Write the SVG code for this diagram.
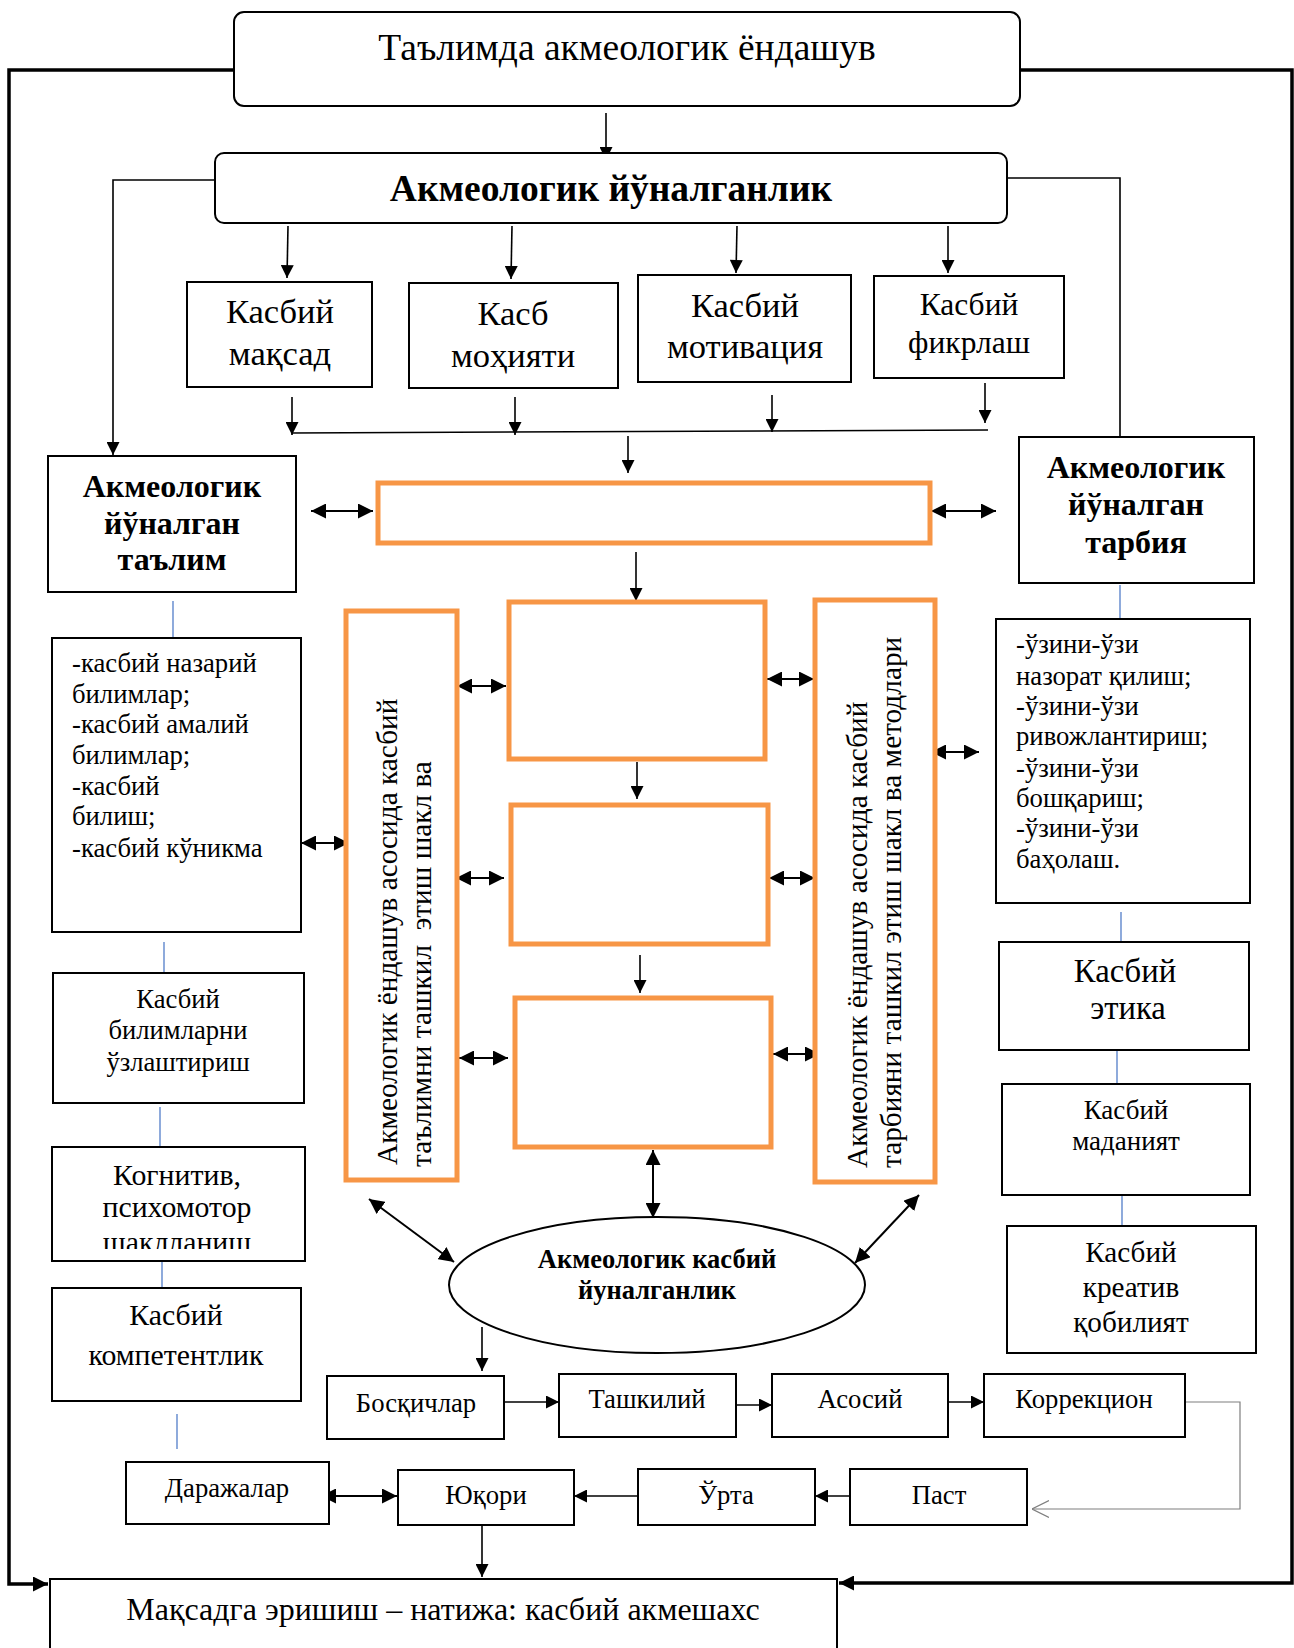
<svg xmlns="http://www.w3.org/2000/svg" width="1294" height="1648" viewBox="0 0 1294 1648">
<style>
text{font-family:"Liberation Serif","Times New Roman",serif;fill:#000}
.c{text-anchor:middle}
.b{font-weight:bold}
.box{fill:#fff;stroke:#000;stroke-width:2}
.ob{fill:#fff;stroke:#F79646;stroke-width:5}
.ln{fill:none;stroke:#000;stroke-width:1.6}
.dl{fill:none;stroke:#000;stroke-width:2}
.fr{fill:none;stroke:#000;stroke-width:3.5}
.bl{fill:none;stroke:#4472C4;stroke-width:1.2}
.gr{fill:none;stroke:#7F7F7F;stroke-width:1.2}
.vt{font-size:29.3px}
.ls{font-size:26.7px}
.rw{font-size:26.7px}
</style>
<defs>
<marker id="a" viewBox="0 0 10 10" refX="10" refY="5" markerWidth="14" markerHeight="13" markerUnits="userSpaceOnUse" orient="auto"><path d="M0,0L10,5L0,10z" fill="#000"/></marker>
<marker id="d" viewBox="0 0 10 10" refX="10" refY="5" markerWidth="15" markerHeight="15" markerUnits="userSpaceOnUse" orient="auto-start-reverse"><path d="M0,0L10,5L0,10z" fill="#000"/></marker>
<marker id="f" viewBox="0 0 10 10" refX="10" refY="5" markerWidth="15" markerHeight="15" markerUnits="userSpaceOnUse" orient="auto"><path d="M0,0L10,5L0,10z" fill="#000"/></marker>
<marker id="o" viewBox="0 0 10 10" refX="10" refY="5" markerWidth="17" markerHeight="18" markerUnits="userSpaceOnUse" orient="auto"><path d="M0,0L10,5L0,10" fill="none" stroke="#7F7F7F" stroke-width="0.7"/></marker>
<clipPath id="kc"><rect x="52" y="1147" width="253" height="102"/></clipPath>
</defs>

<g id="connectors">
<path class="fr" d="M234,70H9V1584H48" marker-end="url(#f)"/>
<path class="fr" d="M1020,70H1292V1583H839" marker-end="url(#f)"/>
<path class="ln" d="M606,113V160" marker-end="url(#a)"/>
<path class="ln" d="M215,180H113V455" marker-end="url(#a)"/>
<path class="ln" d="M1007,178H1120V449" marker-end="url(#a)"/>
<path class="ln" d="M288,226L287,278" marker-end="url(#a)"/>
<path class="ln" d="M512,226L511,279" marker-end="url(#a)"/>
<path class="ln" d="M737,226L736,273" marker-end="url(#a)"/>
<path class="ln" d="M948,226L948,273" marker-end="url(#a)"/>
<path class="ln" d="M292,397V435" marker-end="url(#a)"/>
<path class="ln" d="M515,397V435" marker-end="url(#a)"/>
<path class="ln" d="M772,395V432" marker-end="url(#a)"/>
<path class="ln" d="M985,383V423" marker-end="url(#a)"/>
<path class="ln" d="M292,433L988,430"/>
<path class="ln" d="M628,436V473" marker-end="url(#a)"/>
<path class="ln" d="M636,552V601" marker-end="url(#a)"/>
<path class="ln" d="M637,762V799" marker-end="url(#a)"/>
<path class="ln" d="M640,955V993" marker-end="url(#a)"/>
<path class="dl" d="M311,511H373" marker-start="url(#d)" marker-end="url(#d)"/>
<path class="dl" d="M931,511H996" marker-start="url(#d)" marker-end="url(#d)"/>
<path class="dl" d="M301,843H349" marker-start="url(#d)" marker-end="url(#d)"/>
<path class="dl" d="M457,686H506" marker-start="url(#d)" marker-end="url(#d)"/>
<path class="dl" d="M456,878H504" marker-start="url(#d)" marker-end="url(#d)"/>
<path class="dl" d="M459,1058H508" marker-start="url(#d)" marker-end="url(#d)"/>
<path class="dl" d="M767,679H814" marker-start="url(#d)" marker-end="url(#d)"/>
<path class="dl" d="M769,878H815" marker-start="url(#d)" marker-end="url(#d)"/>
<path class="dl" d="M773,1054H820" marker-start="url(#d)" marker-end="url(#d)"/>
<path class="dl" d="M931,752H979" marker-start="url(#d)" marker-end="url(#d)"/>
<path class="dl" d="M653,1150V1218" marker-start="url(#d)" marker-end="url(#d)"/>
<path class="dl" d="M369,1199L454,1262" marker-start="url(#d)" marker-end="url(#d)"/>
<path class="dl" d="M919,1195L855,1263" marker-start="url(#d)" marker-end="url(#d)"/>
<path class="ln" d="M482,1327V1371" marker-end="url(#a)"/>
<path class="ln" d="M504,1402H559" marker-end="url(#a)"/>
<path class="ln" d="M736,1405H772" marker-end="url(#a)"/>
<path class="ln" d="M948,1402H984" marker-end="url(#a)"/>
<path class="gr" d="M1185,1402H1240V1509H1032" marker-end="url(#o)"/>
<path class="ln" d="M850,1496H815" marker-end="url(#a)"/>
<path class="ln" d="M638,1496H574" marker-end="url(#a)"/>
<path class="dl" d="M321,1496H397" marker-start="url(#d)" marker-end="url(#d)"/>
<path class="ln" d="M482,1525V1577" marker-end="url(#a)"/>
<path class="bl" d="M173,601V638"/>
<path class="bl" d="M1120,585V618"/>
<path class="bl" d="M164,942V973"/>
<path class="bl" d="M160,1107V1147"/>
<path class="bl" d="M162,1261V1288"/>
<path class="bl" d="M177,1414V1449"/>
<path class="bl" d="M1121,912V941"/>
<path class="bl" d="M1117,1051V1084"/>
<path class="bl" d="M1122,1195V1226"/>
</g>

<g id="n-title"><rect class="box" x="234" y="12" width="786" height="94" rx="10"/><text class="c" x="627" y="60" font-size="37.5">Таълимда акмеологик ёндашув</text></g>
<g id="n-akm"><rect class="box" x="215" y="153" width="792" height="70" rx="9"/><text class="c b" x="611" y="201" font-size="37.5">Акмеологик йўналганлик</text></g>

<g id="n-maqsad"><rect class="box" x="187" y="282" width="185" height="105"/><text class="c" font-size="34.5"><tspan x="280" y="323">Касбий</tspan><tspan x="280" y="365">мақсад</tspan></text></g>
<g id="n-mohiyat"><rect class="box" x="409" y="283" width="209" height="105"/><text class="c" font-size="34.5"><tspan x="513" y="325">Касб</tspan><tspan x="513" y="367">моҳияти</tspan></text></g>
<g id="n-motiv"><rect class="box" x="638" y="275" width="213" height="107"/><text class="c" font-size="34.5"><tspan x="745" y="317">Касбий</tspan><tspan x="745" y="358">мотивация</tspan></text></g>
<g id="n-fikr"><rect class="box" x="874" y="276" width="190" height="102"/><text class="c" font-size="31.5"><tspan x="969" y="315">Касбий</tspan><tspan x="969" y="353">фикрлаш</tspan></text></g>

<g id="n-talim"><rect class="box" x="48" y="456" width="248" height="136"/><text class="c b" font-size="32"><tspan x="172" y="497">Акмеологик</tspan><tspan x="172" y="534">йўналган</tspan><tspan x="172" y="570">таълим</tspan></text></g>
<g id="n-tarbiya"><rect class="box" x="1019" y="437" width="235" height="146"/><text class="c b" font-size="32"><tspan x="1136" y="478">Акмеологик</tspan><tspan x="1136" y="515">йўналган</tspan><tspan x="1136" y="553">тарбия</tspan></text></g>

<g id="n-otop"><rect class="ob" x="378" y="483" width="552" height="60"/></g>
<g id="n-o1"><rect class="ob" x="509" y="602" width="256" height="157"/></g>
<g id="n-o2"><rect class="ob" x="511" y="805" width="257" height="139"/></g>
<g id="n-o3"><rect class="ob" x="515" y="998" width="256" height="149"/></g>

<g id="n-vleft"><rect class="ob" x="346" y="611" width="111" height="569"/><text class="vt" transform="translate(397,1165) rotate(-90)">Акмеологик ёндашув асосида касбий</text><text class="vt" xml:space="preserve" transform="translate(431,1167) rotate(-90)">таълимни ташкил  этиш шакл ва</text></g>
<g id="n-vright"><rect class="ob" x="815" y="600" width="120" height="582"/><text class="vt" transform="translate(867,1168) rotate(-90)">Акмеологик ёндашув асосида касбий</text><text class="vt" transform="translate(901,1168) rotate(-90)">тарбияни ташкил этиш шакл ва методлари</text></g>

<g id="n-listL"><rect class="box" x="52" y="638" width="249" height="294"/><text class="ls"><tspan x="72" y="672">-касбий назарий</tspan><tspan x="72" y="703">билимлар;</tspan><tspan x="72" y="733">-касбий амалий</tspan><tspan x="72" y="764">билимлар;</tspan><tspan x="72" y="795">-касбий</tspan><tspan x="72" y="825">билиш;</tspan><tspan x="72" y="857">-касбий кўникма</tspan></text></g>
<g id="n-listR"><rect class="box" x="996" y="619" width="254" height="284"/><text class="ls"><tspan x="1016" y="653">-ўзини-ўзи</tspan><tspan x="1016" y="685">назорат қилиш;</tspan><tspan x="1016" y="715">-ўзини-ўзи</tspan><tspan x="1016" y="745">ривожлантириш;</tspan><tspan x="1016" y="777">-ўзини-ўзи</tspan><tspan x="1016" y="807">бошқариш;</tspan><tspan x="1016" y="837">-ўзини-ўзи</tspan><tspan x="1016" y="868">баҳолаш.</tspan></text></g>

<g id="n-bilim"><rect class="box" x="53" y="973" width="251" height="130"/><text class="c" font-size="26.6"><tspan x="178" y="1008">Касбий</tspan><tspan x="178" y="1039">билимларни</tspan><tspan x="178" y="1071">ўзлаштириш</tspan></text></g>
<g id="n-kogn"><rect class="box" x="52" y="1147" width="253" height="114"/><text class="c" font-size="29.8"><tspan x="177" y="1185">Когнитив,</tspan><tspan x="177" y="1217">психомотор</tspan></text><text class="c" font-size="29.8" x="177" y="1252" clip-path="url(#kc)">шаклланиш</text></g>
<g id="n-komp"><rect class="box" x="52" y="1288" width="249" height="113"/><text class="c" font-size="29.8"><tspan x="176" y="1325">Касбий</tspan><tspan x="176" y="1365">компетентлик</tspan></text></g>

<g id="n-etika"><rect class="box" x="999" y="942" width="250" height="108"/><text class="c" font-size="32.7"><tspan x="1125" y="982">Касбий</tspan><tspan x="1128" y="1019">этика</tspan></text></g>
<g id="n-madan"><rect class="box" x="1002" y="1084" width="248" height="111"/><text class="c" font-size="27"><tspan x="1126" y="1119">Касбий</tspan><tspan x="1126" y="1150">маданият</tspan></text></g>
<g id="n-kreativ"><rect class="box" x="1007" y="1226" width="249" height="127"/><text class="c" font-size="29.2"><tspan x="1131" y="1262">Касбий</tspan><tspan x="1131" y="1297">креатив</tspan><tspan x="1131" y="1332">қобилият</tspan></text></g>

<g id="n-ellipse"><ellipse cx="657" cy="1285" rx="208" ry="68" fill="#fff" stroke="#000" stroke-width="2"/><text class="c b" font-size="26.5"><tspan x="657" y="1268">Акмеологик касбий</tspan><tspan x="657" y="1299">йуналганлик</tspan></text></g>

<g id="n-bosq"><rect class="box" x="327" y="1376" width="177" height="63"/><text class="c rw" x="416" y="1412">Босқичлар</text></g>
<g id="n-tashk"><rect class="box" x="559" y="1374" width="177" height="63"/><text class="c rw" x="647" y="1408">Ташкилий</text></g>
<g id="n-asos"><rect class="box" x="772" y="1374" width="176" height="63"/><text class="c rw" x="860" y="1408">Асосий</text></g>
<g id="n-korr"><rect class="box" x="984" y="1374" width="201" height="63"/><text class="c rw" x="1084" y="1408">Коррекцион</text></g>

<g id="n-daraj"><rect class="box" x="126" y="1462" width="203" height="62"/><text class="c rw" x="227" y="1497">Даражалар</text></g>
<g id="n-yuqori"><rect class="box" x="398" y="1470" width="176" height="55"/><text class="c rw" x="486" y="1504">Юқори</text></g>
<g id="n-urta"><rect class="box" x="638" y="1469" width="177" height="56"/><text class="c rw" x="726" y="1504">Ўрта</text></g>
<g id="n-past"><rect class="box" x="850" y="1469" width="177" height="56"/><text class="c rw" x="939" y="1504">Паст</text></g>

<g id="n-goal"><rect class="box" x="50" y="1579" width="787" height="90"/><text class="c" font-size="32" x="443" y="1620">Мақсадга эришиш – натижа: касбий акмешахс</text></g>
</svg>
